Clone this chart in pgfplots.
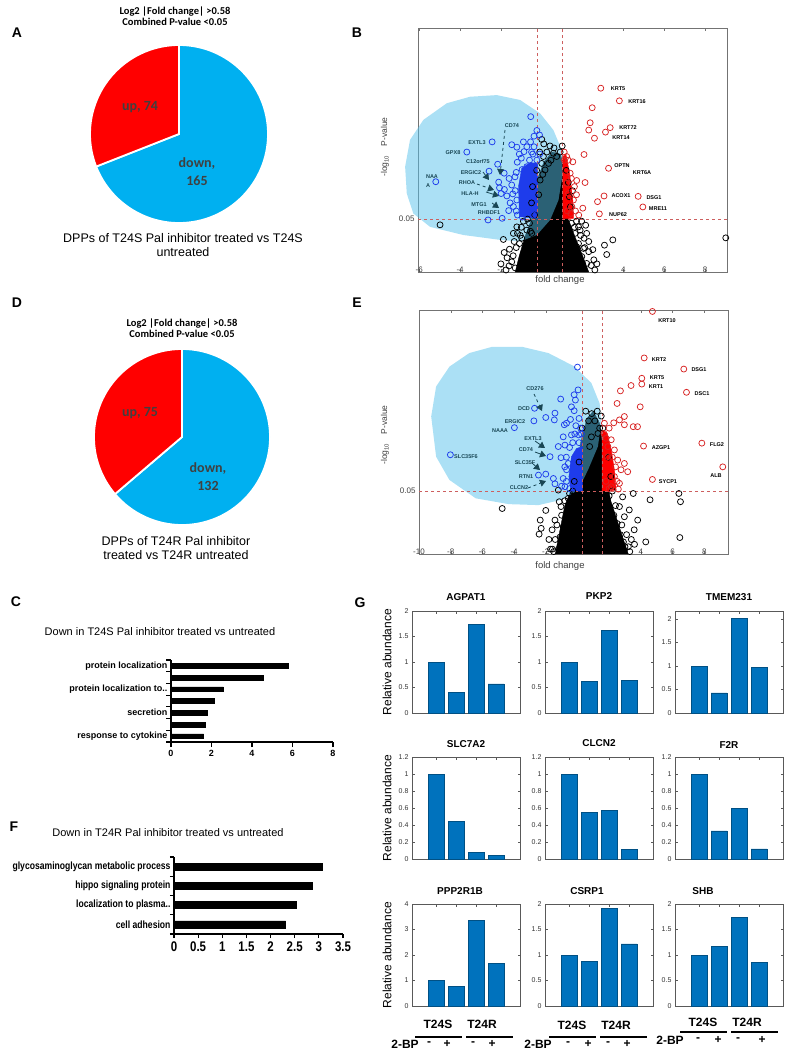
\documentclass[border=0pt]{standalone}
\usepackage{fontspec}
\setmainfont{Liberation Sans}
\newfontfamily\carlito{Carlito}
\newfontfamily\narrow[FakeStretch=0.82]{Liberation Sans}
\usepackage{pgfplots}
\pgfplotsset{compat=1.18}
\usetikzlibrary{arrows.meta}

\definecolor{pieblue}{RGB}{0,176,240}
\definecolor{piered}{RGB}{255,0,0}
\definecolor{pietext}{RGB}{64,64,64}
\definecolor{blob}{RGB}{87,194,235}
\definecolor{dotblue}{RGB}{30,60,235}
\definecolor{dotred}{RGB}{215,35,35}
\definecolor{cutred}{RGB}{205,95,95}
\definecolor{tealtxt}{RGB}{25,70,85}
\definecolor{matblue}{RGB}{0,114,189}

\pgfplotsset{
  every axis/.append style={/pgf/number format/assume math mode=true},
  mk/.style={only marks, mark=o, mark size=3pt, line width=0.75pt},
  volc/.style={scale only axis, anchor=south west, width=309pt, height=244pt,
    clip=false, ymin=0, tick align=inside, major tick length=3pt,
    axis line style={black!55, line width=0.6pt}, tick style={black!55},
    ytick={1.301}, yticklabels={0.05},
    ticklabel style={font=\fontsize{8}{9}\selectfont, text=black!75},
    xticklabel style={yshift=9pt}},
  gbar/.style={scale only axis, anchor=south west, width=108pt, height=102pt,
    xmin=-0.2, xmax=5.2, ymin=0, ybar, bar width=0.8, bar shift=0pt,
    xtick={1,2,3,4}, xticklabels={}, tick align=inside, major tick length=2.5pt,
    axis line style={black!65, line width=0.5pt}, tick style={black!65, line width=0.4pt},
    yticklabel style={font=\fontsize{7}{8}\selectfont, text=black!80}},
  gobar/.style={scale only axis, anchor=south west, axis lines=left,
    axis line style={-, line width=1.2pt}, xbar, bar shift=0pt, xmin=0,
    tick align=outside, tick style={line width=1.1pt, black},
    yticklabels={}, extra y tick style={major tick length=0pt}},
}

\newcommand{\gpanel}[5]{%
  \begin{axis}[gbar, at={(#1pt,#2pt)}, ymax=#3, ytick={#4}]
    \addplot[fill=matblue, draw=matblue!70!black] coordinates {#5};
  \end{axis}}

\begin{document}
\begin{tikzpicture}[x=1pt, y=1pt]
\path[use as bounding box] (0,0) rectangle (788,-1053);

% ---------- panel letters
\foreach \l/\x/\y in {A/17/33, B/357/33, D/17/303, E/357/303, C/16/602, G/360/603, F/14/827}
  \node[font=\bfseries\fontsize{14}{16}\selectfont] at (\x,-\y) {\l};

% ---------- A: pie
\pgfmathsetmacro\angA{90+74/(74+165)*360}
\node[font=\carlito\bfseries\fontsize{10.5}{12}\selectfont, align=center] at (175,-16)
  {Log2 |Fold change| >0.58\\[-1pt]Combined P-value <0.05};
\begin{axis}[hide axis, scale only axis, width=178pt, height=178pt,
    xmin=-1, xmax=1, ymin=-1, ymax=1, at={(179pt,-134pt)}, anchor=center]
  \fill[pieblue, draw=white, line width=1.8pt] (axis cs:0,0) -- (axis cs:0,1)
    arc[start angle=90, end angle=\angA-360, radius=89pt] -- cycle;
  \fill[piered, draw=white, line width=1.8pt] (axis cs:0,0) -- (axis cs:0,1)
    arc[start angle=90, end angle=\angA, radius=89pt] -- cycle;
\end{axis}
\node[font=\carlito\bfseries\fontsize{14}{16}\selectfont, text=pietext] at (140,-107) {up, 74};
\node[font=\carlito\bfseries\fontsize{14}{16}\selectfont, text=pietext, align=center] at (197,-172)
  {down,\\[2pt]165};
\node[font=\fontsize{12.5}{14}\selectfont, align=center] at (183,-245)
  {DPPs of T24S Pal inhibitor treated vs T24S\\untreated};

% ---------- D: pie
\pgfmathsetmacro\angD{90+75/(75+132)*360}
\node[font=\carlito\bfseries\fontsize{10.5}{12}\selectfont, align=center] at (182,-328)
  {Log2 |Fold change| >0.58\\[-1pt]Combined P-value <0.05};
\begin{axis}[hide axis, scale only axis, width=176pt, height=176pt,
    xmin=-1, xmax=1, ymin=-1, ymax=1, at={(182pt,-437pt)}, anchor=center]
  \fill[pieblue, draw=white, line width=1.8pt] (axis cs:0,0) -- (axis cs:0,1)
    arc[start angle=90, end angle=\angD-360, radius=88pt] -- cycle;
  \fill[piered, draw=white, line width=1.8pt] (axis cs:0,0) -- (axis cs:0,1)
    arc[start angle=90, end angle=\angD, radius=88pt] -- cycle;
\end{axis}
\node[font=\carlito\bfseries\fontsize{14}{16}\selectfont, text=pietext] at (140,-413) {up, 75};
\node[font=\carlito\bfseries\fontsize{14}{16}\selectfont, text=pietext, align=center] at (208,-477)
  {down,\\[2pt]132};
\node[font=\fontsize{12.5}{14}\selectfont, align=center] at (176,-548)
  {DPPs of T24R Pal inhibitor\\treated vs T24R untreated};

% ---------- B: volcano T24S
\begin{axis}[volc, at={(418pt,-272pt)}, xmin=-6.06, xmax=9.07, ymax=6,
    xtick={-6,-4,-2,4,6,8}]
  \addplot[fill=black, draw=black] coordinates {
    (-1.30,0) (-1.10,0.40) (-0.80,0.90) (-0.50,1.30) (-0.30,1.80) (-0.20,2.30)
    (0.10,2.70) (0.50,2.95) (0.90,2.90) (1.10,2.60) (1.15,2.00) (1.30,1.30)
    (1.60,0.90) (2.00,0.40) (2.30,0)} -- cycle;
  \addplot[mk, black] coordinates {
    (-4.98,1.16) (-1.88,0.80) (-1.58,0.56) (-1.84,0.48) (-1.47,0.25) (-1.19,0.95)
    (-1.09,0.70) (1.88,1.03) (2.07,0.83) (1.71,0.62) (1.96,0.38) (2.42,0.16)
    (3.07,0.66) (3.18,0.43) (3.48,0.79) (9.01,0.84) (-0.65,0.13) (2.20,0.95)
    (1.47,0.38) (-0.90,0.46) (-0.73,1.03) (0.08,2.84) (0.57,2.92) (0.73,2.84)
    (0.33,2.67) (0.16,2.51) (0.00,2.67) (-0.08,2.26) (-1.22,1.11) (-1.39,0.95)
    (-0.98,0.83) (-0.49,0.95) (1.80,1.11) (1.63,0.95) (2.04,0.58) (2.20,0.21)
    (-0.41,0.21) (-1.00,0.20) (-0.80,0.60) (-0.55,1.00) (-0.35,1.40) (-0.15,1.90)
    (1.40,1.60) (1.60,1.10) (1.80,0.70) (2.00,0.20) (1.30,2.20) (1.20,2.50)
    (-1.30,0.10) (2.30,0.50) (-1.05,0.90) (0.05,2.40) (0.90,2.95) (0.45,2.75)
    (0.10,3.15) (0.00,3.26) (-0.25,2.50) (-0.50,1.70) (-0.70,1.30) (1.50,2.00)
    (2.55,0.30) (-1.60,0.15) (1.00,3.10) (0.60,3.05) (-1.40,0.40) (-1.25,0.60)
    (-1.00,1.10) (-0.90,1.25) (-0.60,1.20) (1.90,0.90) (2.10,0.60) (2.30,0.75)
    (2.50,0.55) (2.70,0.20) (1.70,1.25) (1.45,1.20) (-1.70,0.35) (-1.35,0.75)
    (-0.30,0.60) (0.40,3.10) (0.25,2.95) (-0.10,2.95) (1.35,1.85) (-0.45,2.10)
    (2.15,1.15) (-1.75,0.05) (2.60,0.05) (-2.00,0.20) (1.95,1.25)};
  \addplot[fill=blob, fill opacity=0.5, draw=none] coordinates {
    (-6.69,2.59) (-6.45,3.25) (-5.80,3.74) (-4.65,4.15) (-3.51,4.31) (-2.20,4.35)
    (-1.06,4.23) (-0.08,3.90) (0.57,3.49) (0.98,3.00) (1.03,2.43) (0.82,1.77)
    (0.41,1.28) (-0.24,0.91) (-1.06,0.75) (-2.04,0.79) (-3.84,0.91) (-5.47,1.11)
    (-6.29,1.44) (-6.61,1.93)} -- cycle;
  \addplot[fill=dotblue, draw=dotblue] coordinates {
    (-0.20,2.67) (-0.57,2.69) (-0.98,2.55) (-1.14,2.10) (-1.09,1.36) (-0.20,1.32)} -- cycle;
  \addplot[mk, dotblue] coordinates {
    (-0.54,3.82) (-0.24,3.48) (-0.38,3.34) (-0.11,3.37) (-1.47,3.13) (-1.22,3.07)
    (-0.73,3.08) (-0.38,3.08) (-0.87,2.96) (-0.44,2.90) (-2.43,3.20) (-3.67,2.95)
    (-5.19,2.22) (-2.16,2.65) (-1.84,2.43) (-2.58,2.48) (-2.11,2.21) (-2.07,2.07)
    (-1.83,2.03) (-1.99,1.93) (-1.71,1.87) (-1.42,1.92) (-1.22,1.77) (-1.39,1.61)
    (-1.62,1.51) (-1.94,1.32) (-2.63,1.28) (-1.19,1.40) (-0.96,2.52) (-0.73,2.59)
    (-1.31,2.34) (-1.47,2.14) (-0.24,2.75) (-1.20,2.70) (-1.60,2.30) (-1.55,1.70)
    (-1.00,2.80) (-0.60,2.75) (-1.25,2.45) (-1.30,2.00) (-1.25,1.50) (-0.95,1.35)
    (-0.50,2.95) (-0.10,2.90) (-0.90,3.20) (-1.10,2.90) (-0.55,3.20) (-0.40,1.40)
    (-0.70,1.50) (-0.35,2.60)};
  \addplot[fill=red, draw=red] coordinates {
    (1.03,2.84) (1.19,2.88) (1.36,2.43) (1.52,1.77) (1.55,1.32) (1.03,1.32)} -- cycle;
  \addplot[mk, dotred] coordinates {
    (2.89,4.52) (3.80,4.21) (2.47,4.04) (2.37,3.67) (3.35,3.55) (3.12,3.44)
    (2.30,3.49) (2.58,3.29) (2.07,2.89) (3.27,2.55) (1.52,2.71) (2.12,2.20)
    (1.71,2.25) (3.05,1.87) (2.73,1.73) (4.72,1.86) (4.95,1.60) (2.82,1.43)
    (2.01,1.57) (1.55,1.77) (1.47,1.61) (1.81,1.40) (1.22,2.18) (1.22,2.84)
    (1.11,2.75) (1.39,2.43) (1.31,1.93) (1.42,1.44) (1.30,2.75) (1.45,2.30)
    (1.60,2.10) (1.65,1.50) (1.70,1.90) (1.10,2.95) (1.25,1.50)};
  \addplot[cutred, dashed, line width=0.7pt] coordinates {(-0.196,0) (-0.196,6)};
  \addplot[cutred, dashed, line width=0.7pt] coordinates {(1.03,0) (1.03,6)};
  \addplot[cutred, dashed, line width=0.7pt] coordinates {(-6.06,1.301) (9.07,1.301)};
\end{axis}
\node[font=\fontsize{9.5}{11}\selectfont, text=black!75] at (560,-280) {fold change};
\node[font=\fontsize{8.5}{10}\selectfont, text=black!75, rotate=90] at (385,-147)
  {-log\textsubscript{10}\hspace{9pt}P-value};
\foreach \t/\x/\y in {KRT5/618/89, KRT16/637/102, KRT72/628/128, KRT14/621/138,
    OPTN/622/166, KRT6A/642/173, ACOX1/621/196, DSG1/654/198, MRE11/658/209, NUP62/618/215}
  \node[font=\bfseries\fontsize{5.5}{6}\selectfont] at (\x,-\y) {\t};
\foreach \t/\x/\y in {CD74/512/126, EXTL3/477/143, GPX8/453/153, C12orf75/478/162,
    ERGIC2/471/173, RHOA/467/183, HLA-H/470/194, MTG1/479/205, RHBDF1/489/213,
    NAA/432/177, A/428/186}
  \node[font=\bfseries\fontsize{5.5}{6}\selectfont, text=tealtxt] at (\x,-\y) {\t};
\draw[tealtxt, dashed, line width=0.8pt, -{Triangle[length=6pt, width=7pt]}] (505,-130) -- (500,-175);
\draw[tealtxt, line width=0.8pt, -{Triangle[length=6pt, width=7pt]}] (483,-172) -- (489,-180);
\draw[tealtxt, dashed, line width=0.8pt, -{Triangle[length=6pt, width=7pt]}] (477,-184) -- (494,-190);
\draw[tealtxt, line width=0.8pt, -{Triangle[length=6pt, width=7pt]}] (486,-192) -- (499,-196);
\draw[tealtxt, line width=0.8pt, -{Triangle[length=6pt, width=7pt]}] (492,-203) -- (499,-208);

% ---------- E: volcano T24R
\begin{axis}[volc, at={(419pt,-554pt)}, xmin=-10, xmax=9.5, ymax=5.04,
    xtick={-10,-8,-6,-4,-2,4,6,8}]
  \addplot[fill=black, draw=black] coordinates {
    (-1.40,0) (-1.10,0.50) (-0.80,1.00) (-0.30,1.40) (0.00,1.80) (0.20,2.30)
    (0.60,2.80) (1.00,2.95) (1.40,2.70) (1.60,2.20) (1.80,1.60) (2.10,1.10)
    (2.60,0.60) (3.00,0.20) (3.20,0)} -- cycle;
  \addplot[mk, black] coordinates {
    (-4.75,0.94) (-2.29,0.53) (-2.42,0.41) (-1.58,0.10) (-1.00,0.14) (-1.42,0.70)
    (-1.15,1.08) (-1.04,0.98) (-0.90,0.56) (-0.69,0.70) (-0.90,0.36) (-0.69,0.22)
    (3.52,1.25) (4.58,1.12) (6.40,1.25) (6.50,1.08) (6.46,0.34) (4.31,0.25)
    (3.58,0.50) (3.21,0.15) (2.58,0.32) (2.96,0.77) (2.65,0.98) (2.85,1.18)
    (3.27,0.91) (2.50,0.63) (2.33,0.15) (0.52,2.95) (1.40,2.60) (1.29,2.49)
    (0.88,2.42) (0.77,2.22) (-2.35,0.70) (-1.21,1.32) (-0.58,1.15) (-1.20,0.10)
    (-0.60,0.90) (-0.30,1.30) (2.00,1.20) (2.30,0.80) (2.70,0.40) (3.00,0.15)
    (-1.40,0.30) (2.10,1.60) (1.95,2.00) (1.60,2.60) (1.10,2.75) (0.90,2.90)
    (3.30,0.05) (-1.50,0.05) (1.50,2.85) (-1.80,0.30) (-2.00,0.90) (3.80,0.70)
    (-1.30,0.60) (-1.00,0.80) (-0.80,1.10) (-0.50,1.25) (2.20,1.30) (2.40,1.00)
    (2.80,0.60) (3.10,0.40) (3.40,0.30) (-1.70,0.10) (-1.10,0.35) (2.90,0.25)
    (2.20,0.50) (1.90,1.10) (-0.20,1.50) (0.10,1.90) (-1.60,0.50) (3.60,0.20)
    (0.30,2.60) (0.70,2.75) (1.25,2.95)};
  \addplot[fill=blob, fill opacity=0.5, draw=none] coordinates {
    (-9.23,2.84) (-8.92,3.46) (-8.08,3.87) (-6.83,4.15) (-5.38,4.28) (-3.50,4.28)
    (-1.83,4.15) (-0.17,3.87) (0.88,3.53) (1.40,3.11) (1.50,2.70) (1.29,2.22)
    (0.67,1.74) (0.04,1.32) (-1.00,1.12) (-2.46,1.01) (-4.33,1.03) (-6.42,1.15)
    (-8.08,1.53) (-8.92,2.01)} -- cycle;
  \addplot[fill=dotblue, draw=dotblue] coordinates {
    (0.31,2.22) (-0.06,2.18) (-0.38,2.01) (-0.54,1.60) (-0.42,1.30) (0.31,1.30)} -- cycle;
  \addplot[mk, dotblue] coordinates {
    (0.00,3.86) (0.04,3.39) (-0.21,3.29) (-0.13,3.18) (-1.06,3.20) (-0.38,3.04)
    (-0.21,2.96) (0.10,2.80) (-1.42,2.91) (-1.46,2.77) (-0.83,2.67) (-0.69,2.70)
    (-0.44,2.78) (-2.00,2.82) (-2.71,3.01) (-2.75,2.75) (-3.98,2.61) (-8.02,2.05)
    (-1.73,2.01) (-1.04,1.99) (-1.21,2.22) (-0.79,2.25) (-0.90,2.42) (-0.38,2.46)
    (0.08,2.46) (-0.17,2.48) (0.25,2.48) (-2.46,1.63) (-2.00,1.65) (-1.52,1.56)
    (-1.42,1.45) (-0.90,1.56) (-1.00,1.40) (-0.79,1.39) (-0.69,1.74) (-0.58,1.87)
    (-0.50,2.20) (-0.70,2.00) (-0.80,1.80) (-0.70,1.50) (-0.50,1.35) (0.20,2.60)
    (-0.10,2.65) (0.10,2.30) (-0.30,2.30)};
  \addplot[fill=red, draw=red] coordinates {
    (1.56,2.56) (1.88,2.49) (2.13,2.15) (2.33,1.74) (2.44,1.32) (1.56,1.30)} -- cycle;
  \addplot[mk, dotred] coordinates {
    (4.73,5.01) (4.21,4.05) (6.71,3.82) (4.06,3.63) (4.06,3.51) (3.38,3.48)
    (2.71,3.37) (6.88,3.34) (2.50,3.11) (3.96,3.04) (2.96,2.84) (2.65,2.77)
    (2.29,2.71) (2.96,2.67) (3.52,2.63) (3.79,2.63) (4.17,2.23) (7.85,2.29)
    (9.17,1.80) (4.73,1.54) (2.13,2.36) (1.92,2.22) (2.33,2.15) (2.54,1.94)
    (2.96,1.87) (3.17,1.70) (2.75,1.74) (2.33,1.60) (2.65,1.46) (2.13,1.39)
    (2.58,1.34) (1.67,2.49) (1.81,2.39) (1.92,2.01) (1.70,2.70) (2.00,2.60)
    (2.20,2.00) (2.40,1.80) (2.50,1.50) (1.80,1.50) (2.00,1.35)};
  \addplot[cutred, dashed, line width=0.7pt] coordinates {(0.31,0) (0.31,5.04)};
  \addplot[cutred, dashed, line width=0.7pt] coordinates {(1.56,0) (1.56,5.04)};
  \addplot[cutred, dashed, line width=0.7pt] coordinates {(-10,1.301) (9.5,1.301)};
\end{axis}
\node[font=\fontsize{9.5}{11}\selectfont, text=black!75] at (560,-566) {fold change};
\node[font=\fontsize{8.5}{10}\selectfont, text=black!75, rotate=90] at (385,-435)
  {-log\textsubscript{10}\hspace{9pt}P-value};
\foreach \t/\x/\y in {KRT10/667/321, KRT2/659/360, DSG1/699/370, KRT5/657/378,
    KRT1/656/387, DSC1/702/394, AZGP1/661/448, FLG2/717/445, ALB/716/476, SYCP1/668/482}
  \node[font=\bfseries\fontsize{5.5}{6}\selectfont] at (\x,-\y) {\t};
\foreach \t/\x/\y in {CD276/535/389, DCD/524/409, ERGIC2/515/422, NAAA/500/431,
    EXTL3/533/439, CD74/526/450, SLC35F/525/463, RTN1/526/477, CLCN2/519/488,
    SLC35F6/466/457}
  \node[font=\bfseries\fontsize{5.5}{6}\selectfont, text=tealtxt] at (\x,-\y) {\t};
\draw[tealtxt, dashed, line width=0.8pt, -{Triangle[length=6pt, width=7pt]}] (534,-394) -- (542,-411);
\draw[tealtxt, line width=0.8pt, -{Triangle[length=6pt, width=7pt]}] (535,-441) -- (545,-448);
\draw[tealtxt, line width=0.8pt, -{Triangle[length=6pt, width=7pt]}] (535,-452) -- (546,-456);
\draw[tealtxt, line width=0.8pt, -{Triangle[length=6pt, width=7pt]}] (532,-463) -- (540,-470);
\draw[tealtxt, dashed, line width=0.8pt, -{Triangle[length=6pt, width=7pt]}] (528,-488) -- (546,-481);

% ---------- C: GO terms T24S
\node[font=\fontsize{11}{13}\selectfont] at (160,-632) {Down in T24S Pal inhibitor treated vs untreated};
\begin{axis}[gobar, at={(171pt,-742pt)}, width=162pt, height=82pt,
    xmax=8, ymin=0.5, ymax=7.5, bar width=4.7pt, major tick length=5pt,
    xtick={0,2,4,6,8}, ytick={0.5,1.5,...,7.5},
    extra y ticks={7,5,3,1},
    extra y tick labels={protein localization, protein localization to.., secretion, response to cytokine},
    ticklabel style={font=\bfseries\fontsize{9}{10}\selectfont}]
  \addplot[fill=black, draw=black] coordinates {
    (5.79,7) (4.56,6) (2.59,5) (2.15,4) (1.80,3) (1.69,2) (1.61,1)};
\end{axis}

% ---------- F: GO terms T24R
\node[font=\fontsize{11}{13}\selectfont] at (168,-833) {Down in T24R Pal inhibitor treated vs untreated};
\begin{axis}[gobar, at={(174pt,-934pt)}, width=169pt, height=77pt,
    xmax=3.5, ymin=0.5, ymax=4.5, bar width=7pt, major tick length=4pt,
    xtick={0,0.5,...,3.5}, ytick={0.5,1.5,...,4.5},
    extra y ticks={4,3,2,1},
    extra y tick labels={glycosaminoglycan metabolic process, hippo signaling protein,
      localization to plasma.., cell adhesion},
    yticklabel style={font=\narrow\bfseries\fontsize{10.5}{12}\selectfont},
    xticklabel style={font=\narrow\bfseries\fontsize{14}{16}\selectfont}]
  \addplot[fill=black, draw=black] coordinates {
    (3.06,4) (2.86,3) (2.53,2) (2.31,1)};
\end{axis}

% ---------- G: relative abundance
\gpanel{412}{-713}{2}{0,0.5,1,1.5,2}{(1,1.00) (2,0.40) (3,1.74) (4,0.57)}
\gpanel{545}{-713}{2}{0,0.5,1,1.5,2}{(1,1.00) (2,0.62) (3,1.62) (4,0.64)}
\gpanel{675}{-713}{2.17}{0,0.5,1,1.5,2}{(1,1.00) (2,0.43) (3,2.02) (4,0.97)}
\gpanel{412}{-859}{1.2}{0,0.2,0.4,0.6,0.8,1,1.2}{(1,1.00) (2,0.44) (3,0.08) (4,0.04)}
\gpanel{545}{-859}{1.2}{0,0.2,0.4,0.6,0.8,1,1.2}{(1,1.00) (2,0.55) (3,0.57) (4,0.11)}
\gpanel{675}{-859}{1.2}{0,0.2,0.4,0.6,0.8,1,1.2}{(1,1.00) (2,0.33) (3,0.60) (4,0.12)}
\gpanel{412}{-1006}{4}{0,1,2,3,4}{(1,1.00) (2,0.76) (3,3.35) (4,1.68)}
\gpanel{545}{-1006}{2}{0,0.5,1,1.5,2}{(1,1.00) (2,0.87) (3,1.92) (4,1.22)}
\gpanel{675}{-1006}{2}{0,0.5,1,1.5,2}{(1,1.00) (2,1.17) (3,1.74) (4,0.86)}
\foreach \t/\x/\y in {AGPAT1/466/597, PKP2/599/596, TMEM231/729/597,
    SLC7A2/466/744, CLCN2/599/743, F2R/729/745,
    PPP2R1B/460/891, CSRP1/587/891, SHB/703/891}
  \node[font=\bfseries\fontsize{10}{12}\selectfont] at (\x,-\y) {\t};
\foreach \y in {662, 808, 955}
  \node[font=\fontsize{12}{14}\selectfont, rotate=90] at (387,-\y) {Relative abundance};
% group labels under the bottom row
\foreach \xa/\xb/\ya/\yl/\sa/\sb/\sc/\sd/\xl/\yb in
    {438/482/1024/1037/429/447/473/492/405/1044,
     572/616/1025/1037/568/588/608/627/538/1044,
     703/747/1022/1032/698/718/738/762/670/1040}{
  \node[font=\bfseries\fontsize{12}{14}\selectfont] at (\xa,-\ya) {T24S};
  \node[font=\bfseries\fontsize{12}{14}\selectfont] at (\xb,-\ya) {T24R};
  \draw[line width=1.3pt] (\xa-23,-\yl) -- (\xa+24,-\yl);
  \draw[line width=1.3pt] (\xb-16,-\yl) -- (\xb+31,-\yl);
  \node[font=\bfseries\fontsize{12}{14}\selectfont] at (\xl,-\yb) {2-BP};
  \foreach \s/\c in {\sa/-, \sb/+, \sc/-, \sd/+}
    \node[font=\bfseries\fontsize{12}{14}\selectfont] at (\s,-\yb) {\c};
}
\end{tikzpicture}
\end{document}
